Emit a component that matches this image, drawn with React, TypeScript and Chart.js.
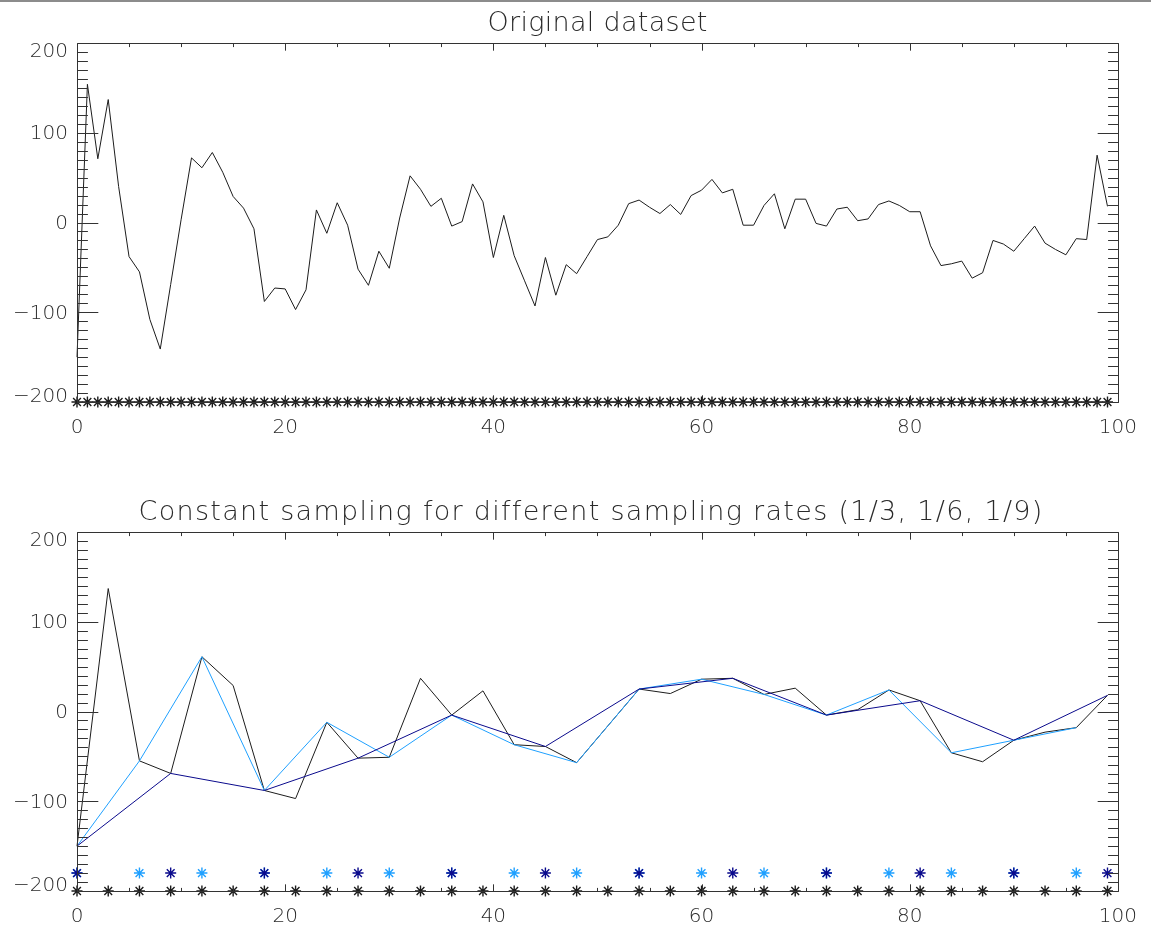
import React, { useEffect, useRef } from "react";
import { Chart, registerables } from "chart.js";

Chart.register(...registerables);

// Sample positions of the original signal.
const SAMPLE_INDEX: number[] = [
  0, 1, 2, 3, 4, 5, 6, 7, 8, 9, 10, 11, 12, 13, 14, 15, 16, 17, 18, 19,
  20, 21, 22, 23, 24, 25, 26, 27, 28, 29, 30, 31, 32, 33, 34, 35, 36, 37, 38, 39,
  40, 41, 42, 43, 44, 45, 46, 47, 48, 49, 50, 51, 52, 53, 54, 55, 56, 57, 58, 59,
  60, 61, 62, 63, 64, 65, 66, 67, 68, 69, 70, 71, 72, 73, 74, 75, 76, 77, 78, 79,
  80, 81, 82, 83, 84, 85, 86, 87, 88, 89, 90, 91, 92, 93, 94, 95, 96, 97, 98, 99,
];

// Original signal values, one per sample position.
const ORIGINAL_VALUES: number[] = [
  -150, 154, 71, 137, 40, -38, -55, -108, -141, -69,
  3, 72, 61, 78, 56, 29, 16, -7, -88, -73,
  -74, -97, -75, 14, -12, 22, -3, -52, -70, -32,
  -51, 5, 52, 37, 18, 27, -4, 1, 43, 23,
  -39, 8, -37, -65, -93, -39, -81, -47, -57, -38,
  -19, -16, -3, 21, 25, 17, 10, 20, 9, 30,
  36, 48, 33, 37, -3, -3, 19, 32, -7, 26,
  26, -1, -4, 15, 17, 2, 4, 20, 24, 19,
  12, 12, -26, -48, -46, -43, -62, -56, -20, -24,
  -32, -18, -4, -23, -30, -36, -18, -19, 75, 18,
];

// Sampling steps (every 3rd, 6th and 9th sample) and their colours.
const SAMPLING_STEPS: number[] = [3, 6, 9];
const SAMPLING_COLORS: string[] = ["#1c1c1c", "#1fa0ff", "#0a0a8c"];
// Height of the sample markers for each step.
const SAMPLING_MARK_LEVEL: number[] = [-200, -180, -180];
const ORIGINAL_MARK_LEVEL = -200;

const X_TICKS: number[] = [0, 20, 40, 60, 80, 100];
const Y_TICKS: number[] = [-200, -100, 0, 100, 200];

const TITLES: string[] = [
  "Original dataset",
  "Constant sampling for different sampling rates (1/3, 1/6, 1/9)",
];

const TEXT_COLOR = "#2a2a2a";
const AXIS_COLOR = "#333333";
const FONT_FAMILY = '"DejaVu Sans", "Noto Sans", sans-serif';
const X_AXIS_HEIGHT = 35;
const CANVAS_W = 1151;

type Pt = { x: number; y: number };

const originalPoints: Pt[] = SAMPLE_INDEX.map((x, i) => ({ x, y: ORIGINAL_VALUES[i] }));

// Keep every n-th sample of the original signal.
function sampled(step: number): Pt[] {
  return originalPoints.filter((p) => p.x % step === 0);
}

function formatTick(v: number): string {
  return v < 0 ? "\u2212" + Math.abs(v) : String(v);
}

// Boxed axes with inward major/minor ticks on all four sides, y labels kept
// inside the box height, and the panel title.
const idlFrame = {
  id: "idlFrame",
  afterDraw(chart: any, _args: any, opts: any) {
    const { ctx, chartArea: a, scales } = chart;
    const xs = scales.x;
    const ys = scales.y;
    const L = Math.round(a.left) + 0.5;
    const R = Math.round(a.right) + 0.5;
    const T = Math.round(a.top) + 0.5;
    const B = Math.round(a.bottom) + 0.5;
    ctx.save();
    ctx.strokeStyle = AXIS_COLOR;
    ctx.lineWidth = 1;
    ctx.beginPath();
    ctx.rect(L, T, R - L, B - T);
    ctx.stroke();

    const h = B - T;
    const w = R - L;
    ctx.beginPath();
    for (let v = 0; v <= 100; v += 5) {
      const len = v % 20 === 0 ? h * 0.02 : h * 0.01;
      const px = Math.round(xs.getPixelForValue(v)) + 0.5;
      ctx.moveTo(px, B);
      ctx.lineTo(px, B - len);
      ctx.moveTo(px, T);
      ctx.lineTo(px, T + len);
    }
    for (let v = -200; v <= 200; v += 10) {
      const len = v % 100 === 0 ? w * 0.02 : w * 0.01;
      const py = Math.round(ys.getPixelForValue(v)) + 0.5;
      ctx.moveTo(L, py);
      ctx.lineTo(L + len, py);
      ctx.moveTo(R, py);
      ctx.lineTo(R - len, py);
    }
    ctx.stroke();

    // y tick labels
    ctx.fillStyle = TEXT_COLOR;
    ctx.font = `200 20px ${FONT_FAMILY}`;
    ctx.textAlign = "right";
    ctx.textBaseline = "middle";
    for (const v of Y_TICKS) {
      let py = ys.getPixelForValue(v) + 1.5;
      py = Math.max(a.top + 9, Math.min(a.bottom - 5, py));
      ctx.fillText(formatTick(v), a.left - 9, py);
    }

    if (opts && opts.title) {
      const spacing = opts.spacing || 0;
      ctx.font = `200 27px ${FONT_FAMILY}`;
      ctx.textAlign = "center";
      (ctx as any).letterSpacing = `${spacing}px`;
      ctx.fillText(opts.title, (a.left + a.right) / 2 + spacing / 2 + (opts.shift || 0), a.top - 19);
      (ctx as any).letterSpacing = "0px";
    }
    ctx.restore();
  },
};

type PanelSpec = {
  title: string;
  titleSpacing: number;
  titleShift: number;
  height: number;
  plotTop: number;
  plotBottom: number;
  datasets: any[];
};

function lineSet(points: Pt[], color: string, order: number) {
  return {
    data: points,
    borderColor: color,
    borderWidth: 1,
    pointRadius: 0,
    tension: 0,
    fill: false,
    clip: false,
    order,
  };
}

function markSet(xs: number[], level: number, color: string, order: number) {
  return {
    data: xs.map((x) => ({ x, y: level })),
    showLine: false,
    pointStyle: "star",
    pointRadius: 5.5,
    pointHoverRadius: 5.5,
    pointBorderWidth: 1.4,
    borderColor: color,
    backgroundColor: color,
    clip: false,
    order,
  };
}

const topPanel: PanelSpec = {
  title: TITLES[0],
  titleSpacing: 0.3,
  titleShift: 0,
  height: 464,
  plotTop: 43,
  plotBottom: 402,
  datasets: [
    lineSet(originalPoints, SAMPLING_COLORS[0], 1),
    markSet(SAMPLE_INDEX, ORIGINAL_MARK_LEVEL, SAMPLING_COLORS[0], 0),
  ],
};

const bottomPanel: PanelSpec = {
  title: TITLES[1],
  titleSpacing: 1.3,
  titleShift: -7,
  height: 464,
  plotTop: 68,
  plotBottom: 427,
  datasets: [
    ...SAMPLING_STEPS.map((s, k) => lineSet(sampled(s), SAMPLING_COLORS[k], 5 - k)),
    ...SAMPLING_STEPS.map((s, k) =>
      markSet(sampled(s).map((p) => p.x), SAMPLING_MARK_LEVEL[k], SAMPLING_COLORS[k], 2 - k)
    ),
  ],
};

function PanelChart({ spec }: { spec: PanelSpec }) {
  const ref = useRef<HTMLCanvasElement | null>(null);
  useEffect(() => {
    if (!ref.current) return;
    const tickFont = { family: FONT_FAMILY, size: 20, weight: "200" as any };
    const chart = new Chart(ref.current, {
      type: "line",
      data: { datasets: spec.datasets },
      options: {
        animation: false,
        responsive: false,
        maintainAspectRatio: false,
        events: [],
        layout: {
          padding: {
            left: 0,
            right: CANVAS_W - 1122,
            top: spec.plotTop,
            bottom: spec.height - spec.plotBottom - X_AXIS_HEIGHT,
          },
        },
        plugins: {
          legend: { display: false },
          tooltip: { enabled: false },
          title: { display: false },
          idlFrame: { title: spec.title, spacing: spec.titleSpacing, shift: spec.titleShift },
        } as any,
        scales: {
          x: {
            type: "linear",
            min: 0,
            max: 100,
            afterFit: (s: any) => {
              s.height = X_AXIS_HEIGHT;
            },
            afterBuildTicks: (s: any) => {
              s.ticks = X_TICKS.map((v) => ({ value: v }));
            },
            grid: { display: false, drawTicks: false },
            border: { display: false },
            ticks: {
              font: tickFont,
              color: TEXT_COLOR,
              padding: 14,
              maxRotation: 0,
              autoSkip: false,
              callback: (v: any) => formatTick(Number(v)),
            },
          },
          y: {
            type: "linear",
            min: -200,
            max: 200,
            afterFit: (s: any) => {
              s.width = 77;
            },
            afterBuildTicks: (s: any) => {
              s.ticks = Y_TICKS.map((v) => ({ value: v }));
            },
            grid: { display: false, drawTicks: false },
            border: { display: false },
            ticks: { display: false },
          },
        },
      },
      plugins: [idlFrame],
    });
    return () => chart.destroy();
  }, [spec]);
  return (
    <canvas
      ref={ref}
      width={CANVAS_W}
      height={spec.height}
      style={{ display: "block", width: CANVAS_W, height: spec.height }}
    />
  );
}

export default function App() {
  return (
    <div
      style={{
        position: "fixed",
        left: 0,
        top: 0,
        width: CANVAS_W,
        height: 928,
        background: "#ffffff",
        overflow: "hidden",
      }}
    >
      <div style={{ position: "absolute", left: 0, top: 0, width: CANVAS_W, height: 2, background: "#8c8c8c" }} />
      <PanelChart spec={topPanel} />
      <PanelChart spec={bottomPanel} />
    </div>
  );
}
